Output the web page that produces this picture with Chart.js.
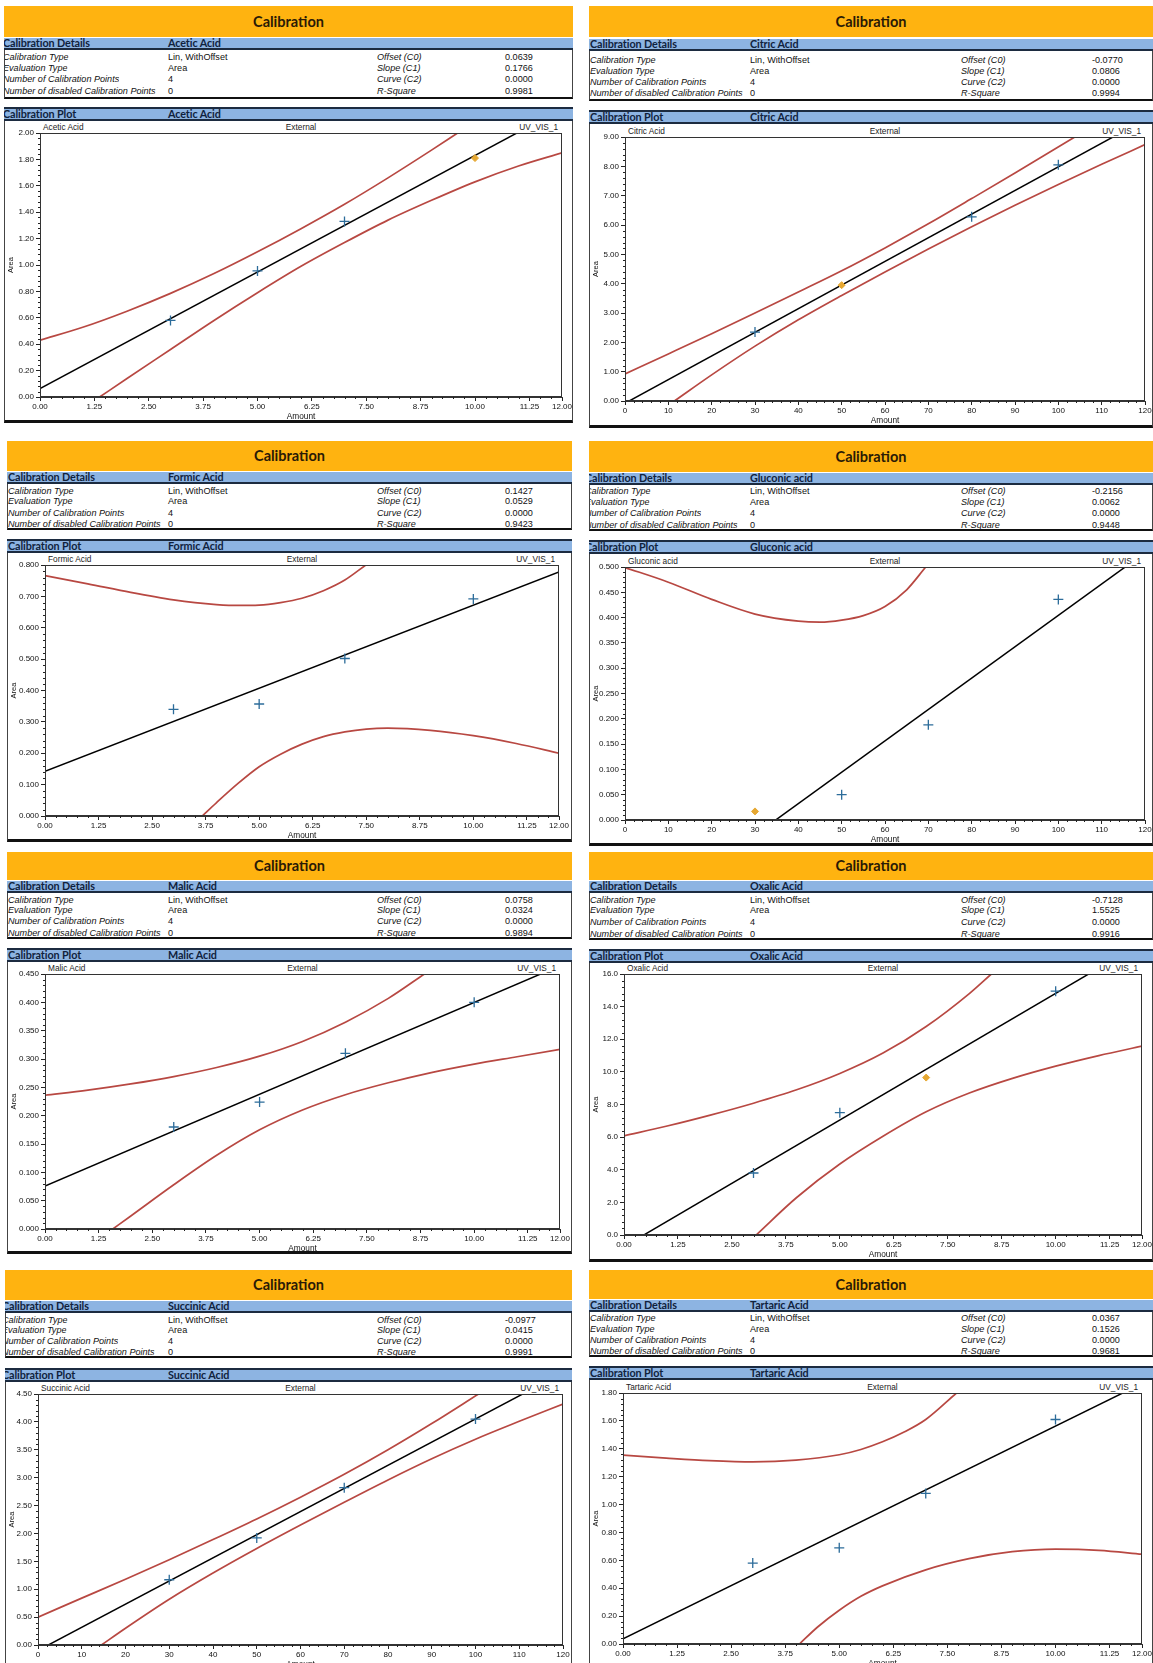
<!DOCTYPE html>
<html>
<head>
<meta charset="utf-8">
<script src="https://cdn.jsdelivr.net/npm/chart.js@4.4.1/dist/chart.umd.min.js"></script>
<style>
  html, body { margin: 0; padding: 0; background: #fff; }
  body { width: 1153px; height: 1663px; position: relative; overflow: hidden;
         font-family: "Liberation Sans", Arial, sans-serif; color: #111; }
  .box { position: absolute; box-sizing: border-box; overflow: hidden; }
  .orange { background: #FFB310; }
  .orange span { position: absolute; left: 0; right: 0; text-align: center;
                 font-family: Lato, "Open Sans", sans-serif; font-weight: 700; font-size: 14.5px; color: #2a1a06; }
  .bar { background: #8DB4E2; border-bottom: 2px solid #1c2b40; }
  .bar span, .pbar span { position: absolute; font-family: Lato, "Open Sans", sans-serif; font-weight: 700;
               font-size: 10.8px; color: #10223d; letter-spacing: -0.1px; white-space: nowrap; }
  .pbar { background: #8DB4E2; border-top: 2px solid #1c2b40; border-bottom: 2px solid #1c2b40; }
  .txt { position: absolute; white-space: nowrap; font-size: 9.1px; line-height: 10px; }
  .it { font-style: italic; }
  .sub { position: absolute; white-space: nowrap; font-size: 8.3px; line-height: 9px; color: #222; }
  canvas { position: absolute; }
</style>
</head>
<body>
<script>
// ---- calibration results ----
const acidNames = ['Acetic Acid', 'Citric Acid', 'Formic Acid', 'Gluconic acid',
                   'Malic Acid', 'Oxalic Acid', 'Succinic Acid', 'Tartaric Acid'];
const calibrationType = 'Lin, WithOffset';
const evaluationType = 'Area';
const calibrationPointCount = [4, 4, 4, 4, 4, 4, 4, 4];
const disabledPointCount = [0, 0, 0, 0, 0, 0, 0, 0];
const offsetC0 = [0.0639, -0.0770, 0.1427, -0.2156, 0.0758, -0.7128, -0.0977, 0.0367];
const slopeC1  = [0.1766, 0.0806, 0.0529, 0.0062, 0.0324, 1.5525, 0.0415, 0.1526];
const curveC2  = [0.0000, 0.0000, 0.0000, 0.0000, 0.0000, 0.0000, 0.0000, 0.0000];
const rSquare  = [0.9981, 0.9994, 0.9423, 0.9448, 0.9894, 0.9916, 0.9991, 0.9681];

// ---- standards (amount) ----
const amountLow    = [3, 5, 7, 10];
const amountHigh   = [30, 50, 70, 100];
const amountCitric = [30, 50, 80, 100];

// ---- measured areas ----
const areaAcetic   = [0.58, 0.955, 1.33, 1.81];
const areaCitric   = [2.35, 3.95, 6.28, 8.05];
const areaFormic   = [0.340, 0.357, 0.502, 0.692];
const areaGluconic = [0.017, 0.050, 0.188, 0.436];
const areaMalic    = [0.180, 0.224, 0.310, 0.400];
const areaOxalic   = [3.8, 7.5, 9.65, 14.95];
const areaSuccinic = [1.17, 1.92, 2.82, 4.05];
const areaTartaric = [0.58, 0.69, 1.08, 1.61];

// index of the standard shown with a diamond marker (-1: none)
const diamondPoint = [3, 1, -1, 0, -1, 2, -1, -1];

// ---- confidence limits [amount, area] ----
const aceticUpper = [[0,0.43],[1,0.53],[2,0.65],[3,0.785],[4,0.935],[5,1.10],[6,1.275],[7,1.46],[8,1.66],[9,1.87],[9.6,2.00]];
const aceticLower = [[1.37,0],[2,0.14],[3,0.36],[4,0.58],[5,0.79],[6,0.99],[7,1.17],[8,1.34],[9,1.49],[10,1.63],[11,1.75],[12,1.85]];
const citricUpper = [[0,0.92],[10,1.605],[20,2.295],[30,3.00],[40,3.715],[50,4.44],[60,5.22],[70,6.04],[80,6.90],[90,7.77],[103.8,9.0]];
const citricLower = [[11.4,0],[20,0.89],[30,1.87],[40,2.77],[50,3.60],[60,4.40],[70,5.18],[80,5.94],[90,6.67],[100,7.38],[110,8.07],[120,8.74]];
const formicUpper = [[0,0.766],[1,0.740],[2,0.713],[3,0.689],[3.5,0.680],[4,0.674],[4.5,0.671],[5,0.672],[5.5,0.680],[6,0.694],[6.5,0.718],[7,0.752],[7.49,0.80]];
const formicLower = [[3.67,0],[4,0.042],[4.5,0.103],[5,0.157],[5.5,0.197],[6,0.229],[6.5,0.253],[7,0.268],[7.5,0.277],[8,0.280],[9,0.273],[10,0.256],[11,0.231],[12,0.200]];
const gluconicUpper = [[0,0.499],[10,0.470],[20,0.436],[30,0.407],[40,0.393],[45,0.391],[50,0.395],[55,0.404],[60,0.422],[65,0.455],[69.4,0.500]];
const gluconicLower = [];
const malicUpper = [[0,0.236],[1,0.245],[2,0.256],[3,0.269],[4,0.285],[5,0.305],[6,0.331],[7,0.365],[8,0.407],[8.84,0.450]];
const malicLower = [[1.58,0],[2,0.023],[3,0.078],[4,0.130],[5,0.175],[6,0.210],[7,0.237],[8,0.258],[9,0.276],[10,0.291],[11,0.304],[12,0.317]];
const oxalicUpper = [[0,6.08],[1,6.68],[2,7.35],[3,8.08],[4,8.90],[5,9.90],[6,11.15],[7,12.78],[8,14.80],[8.51,16.0]];
const oxalicLower = [[3.06,0],[4,2.30],[5,4.35],[6,6.05],[7,7.55],[8,8.70],[9,9.60],[10,10.35],[11,11.0],[12,11.58]];
const succinicUpper = [[0,0.50],[10,0.84],[20,1.18],[30,1.53],[40,1.89],[50,2.26],[60,2.65],[70,3.06],[80,3.50],[90,3.97],[100.7,4.50]];
const succinicLower = [[14.5,0],[20,0.30],[30,0.82],[40,1.29],[50,1.73],[60,2.15],[70,2.56],[80,2.96],[90,3.34],[100,3.69],[110,4.01],[120,4.32]];
const tartaricUpper = [[0,1.354],[1,1.333],[2,1.315],[3,1.306],[4,1.318],[5,1.357],[5.5,1.395],[6,1.45],[6.5,1.52],[7,1.61],[7.71,1.80]];
const tartaricLower = [[4.08,0],[4.5,0.122],[5,0.242],[5.5,0.342],[6,0.417],[7,0.532],[8,0.612],[9,0.662],[10,0.680],[11,0.672],[12,0.644]];

// ---- axis ticks ----
const amountTicksFine   = [0, 1.25, 2.5, 3.75, 5, 6.25, 7.5, 8.75, 10, 11.25, 12];
const amountTicksCoarse = [0, 10, 20, 30, 40, 50, 60, 70, 80, 90, 100, 110, 120];
const aceticTicks   = [0, 0.2, 0.4, 0.6, 0.8, 1.0, 1.2, 1.4, 1.6, 1.8, 2.0];
const citricTicks   = [0, 1, 2, 3, 4, 5, 6, 7, 8, 9];
const formicTicks   = [0, 0.1, 0.2, 0.3, 0.4, 0.5, 0.6, 0.7, 0.8];
const gluconicTicks = [0, 0.05, 0.1, 0.15, 0.2, 0.25, 0.3, 0.35, 0.4, 0.45, 0.5];
const malicTicks    = [0, 0.05, 0.1, 0.15, 0.2, 0.25, 0.3, 0.35, 0.4, 0.45];
const oxalicTicks   = [0, 2, 4, 6, 8, 10, 12, 14, 16];
const succinicTicks = [0, 0.5, 1.0, 1.5, 2.0, 2.5, 3.0, 3.5, 4.0, 4.5];
const tartaricTicks = [0, 0.2, 0.4, 0.6, 0.8, 1.0, 1.2, 1.4, 1.6, 1.8];

const plots = [
  { amounts: amountLow,    areas: areaAcetic,   upper: aceticUpper,   lower: aceticLower,   xTicks: amountTicksFine,   xDec: 2, yTicks: aceticTicks,   yDec: 2 },
  { amounts: amountCitric, areas: areaCitric,   upper: citricUpper,   lower: citricLower,   xTicks: amountTicksCoarse, xDec: 0, yTicks: citricTicks,   yDec: 2 },
  { amounts: amountLow,    areas: areaFormic,   upper: formicUpper,   lower: formicLower,   xTicks: amountTicksFine,   xDec: 2, yTicks: formicTicks,   yDec: 3 },
  { amounts: amountHigh,   areas: areaGluconic, upper: gluconicUpper, lower: gluconicLower, xTicks: amountTicksCoarse, xDec: 0, yTicks: gluconicTicks, yDec: 3 },
  { amounts: amountLow,    areas: areaMalic,    upper: malicUpper,    lower: malicLower,    xTicks: amountTicksFine,   xDec: 2, yTicks: malicTicks,    yDec: 3 },
  { amounts: amountLow,    areas: areaOxalic,   upper: oxalicUpper,   lower: oxalicLower,   xTicks: amountTicksFine,   xDec: 2, yTicks: oxalicTicks,   yDec: 1 },
  { amounts: amountHigh,   areas: areaSuccinic, upper: succinicUpper, lower: succinicLower, xTicks: amountTicksCoarse, xDec: 0, yTicks: succinicTicks, yDec: 2 },
  { amounts: amountLow,    areas: areaTartaric, upper: tartaricUpper, lower: tartaricLower, xTicks: amountTicksFine,   xDec: 2, yTicks: tartaricTicks, yDec: 2 }
];

// ---- page geometry of each report block ----
const blocks = [
  {left:4,   right:573,  oT:6,    oB:37,   bT:38,   bB:50,   rows:[57,68,79,91],         tL:97,   pT:107,  pB:121,  fT:133,  fB:397,  fL:40,  fR:562,  bot:423,  indent:-2},
  {left:589, right:1153, oT:6,    oB:37,   bT:39,   bB:51,   rows:[60,71,82,93],         tL:99,   pT:110,  pB:124,  fT:137,  fB:401,  fL:625, fR:1145, bot:428,  indent:0},
  {left:7,   right:572,  oT:441,  oB:471,  bT:472,  bB:484,  rows:[491,501,513,524],     tL:528,  pT:539,  pB:553,  fT:565,  fB:816,  fL:45,  fR:559,  bot:842,  indent:0},
  {left:589, right:1153, oT:441,  oB:472,  bT:473,  bB:485,  rows:[491,502,513,525],     tL:529,  pT:540,  pB:554,  fT:567,  fB:820,  fL:625, fR:1145, bot:846,  indent:-5},
  {left:7,   right:572,  oT:852,  oB:880,  bT:881,  bB:893,  rows:[900,910,921,933],     tL:937,  pT:948,  pB:962,  fT:974,  fB:1229, fL:45,  fR:560,  bot:1254, indent:0},
  {left:589, right:1153, oT:852,  oB:880,  bT:881,  bB:893,  rows:[900,910,922,934],     tL:938,  pT:949,  pB:963,  fT:974,  fB:1235, fL:624, fR:1142, bot:1262, indent:0},
  {left:5,   right:572,  oT:1270, oB:1300, bT:1301, bB:1313, rows:[1320,1330,1341,1352], tL:1356, pT:1368, pB:1382, fT:1394, fB:1645, fL:38,  fR:563,  bot:1690, indent:-4},
  {left:589, right:1153, oT:1270, oB:1299, bT:1300, bB:1312, rows:[1318,1329,1340,1351], tL:1355, pT:1366, pB:1380, fT:1393, fB:1644, fL:623, fR:1142, bot:1690, indent:0}
];

function el(cls, css, text) {
  const d = document.createElement('div');
  d.className = cls;
  Object.assign(d.style, css);
  if (text !== undefined) d.textContent = text;
  document.body.appendChild(d);
  return d;
}
function span(parent, text, css) {
  const s = document.createElement('span');
  s.textContent = text;
  Object.assign(s.style, css);
  parent.appendChild(s);
  return s;
}

// frame around the plot area plus small intermediate ticks on both axes
const frameAndMinorTicks = {
  id: 'frameAndMinorTicks',
  afterDraw(chart) {
    const { ctx, chartArea: a, scales } = chart;
    ctx.save();
    ctx.strokeStyle = '#333';
    ctx.lineWidth = 1;
    ctx.strokeRect(Math.round(a.left) + 0.5, Math.round(a.top) + 0.5,
                   Math.round(a.right - a.left) - 1, Math.round(a.bottom - a.top) - 1);
    ctx.strokeStyle = '#222';
    for (const id of ['x', 'y']) {
      const s = scales[id];
      const t = s.ticks.map(k => k.value);
      for (let i = 0; i < t.length - 1; i++) {
        const step = t[i + 1] - t[i];
        const n = Math.round(step / (t[1] - t[0]) * 5);
        for (let j = 1; j < n; j++) {
          const v = t[i] + step * j / n;
          const p = Math.round(s.getPixelForValue(v)) + 0.5;
          ctx.beginPath();
          if (id === 'x') { ctx.moveTo(p, a.bottom); ctx.lineTo(p, a.bottom + 2); }
          else { ctx.moveTo(a.left - 2, p); ctx.lineTo(a.left, p); }
          ctx.stroke();
        }
      }
    }
    ctx.restore();
  }
};

Chart.defaults.font.family = '"Liberation Sans", Arial, sans-serif';
Chart.defaults.font.size = 8;
Chart.defaults.color = '#111';

blocks.forEach((b, i) => {
  const w = b.right - b.left;
  const name = acidNames[i];

  // title band
  const o = el('box orange', { left: b.left + 'px', top: b.oT + 'px', width: w + 'px', height: (b.oB - b.oT) + 'px' });
  span(o, 'Calibration', { top: ((b.oB - b.oT) / 2 - 9) + 'px', lineHeight: '18px' });

  // details header
  const bar = el('box bar', { left: b.left + 'px', top: b.bT + 'px', width: w + 'px', height: (b.bB - b.bT) + 'px' });
  const barLine = (b.bB - b.bT - 2) + 'px';
  const colName = b.left < 580 ? 168 : 750;
  const colLabel = b.left < 580 ? 377 : 961;
  const colValue = b.left < 580 ? 505 : 1092;
  span(bar, 'Calibration Details', { left: (b.indent + 1) + 'px', top: '0px', lineHeight: barLine });
  span(bar, name, { left: (colName - b.left) + 'px', top: '0px', lineHeight: barLine });

  // details table
  el('box', { left: b.left + 'px', top: b.bB + 'px', width: w + 'px', height: (b.tL - b.bB + 2) + 'px',
              borderLeft: '1px solid #444', borderRight: '1px solid #444', borderBottom: '2px solid #111' });
  const rowData = [
    ['Calibration Type', calibrationType, 'Offset (C0)', offsetC0[i].toFixed(4)],
    ['Evaluation Type', evaluationType, 'Slope (C1)', slopeC1[i].toFixed(4)],
    ['Number of Calibration Points', String(calibrationPointCount[i]), 'Curve (C2)', curveC2[i].toFixed(4)],
    ['Number of disabled Calibration Points', String(disabledPointCount[i]), 'R-Square', rSquare[i].toFixed(4)]
  ];
  rowData.forEach((r, k) => {
    const top = (b.rows[k] - 5) + 'px';
    const first = el('txt it', { left: (b.left + 1 + b.indent) + 'px', top }, r[0]);
    if (b.indent < 0) { first.style.clipPath = `inset(0 0 0 ${-b.indent}px)`; }
    el('txt', { left: colName + 'px', top }, r[1]);
    el('txt it', { left: colLabel + 'px', top }, r[2]);
    el('txt', { left: colValue + 'px', top }, r[3]);
  });

  // plot header
  const pbar = el('box pbar', { left: b.left + 'px', top: b.pT + 'px', width: w + 'px', height: (b.pB - b.pT) + 'px' });
  const pLine = (b.pB - b.pT - 4) + 'px';
  span(pbar, 'Calibration Plot', { left: (b.indent + 1) + 'px', top: '0px', lineHeight: pLine });
  span(pbar, name, { left: (colName - b.left) + 'px', top: '0px', lineHeight: pLine });

  // plot section outline
  el('box', { left: b.left + 'px', top: b.pB + 'px', width: w + 'px', height: (b.bot - b.pB) + 'px',
              borderLeft: '1px solid #444', borderRight: '1px solid #444', borderBottom: '3px solid #111' });

  // sub captions above the frame
  el('sub', { left: (b.fL + 3) + 'px', top: (b.fT - 10) + 'px' }, name);
  el('sub', { left: ((b.fL + b.fR) / 2 - 40) + 'px', width: '80px', textAlign: 'center', top: (b.fT - 10) + 'px' }, 'External');
  el('sub', { left: (b.fR - 84) + 'px', width: '80px', textAlign: 'right', top: (b.fT - 10) + 'px' }, 'UV_VIS_1');

  // chart canvas: y-axis band on the left, x-axis band below
  const p = plots[i];
  const cLeft = b.left + 2;
  const yAxisW = b.fL - cLeft;
  const xAxisH = 25;
  const padTop = 7, padRight = 14;
  const cw = b.fR + padRight - cLeft;
  const ch = b.fB + xAxisH - (b.fT - padTop);
  const cv = document.createElement('canvas');
  cv.width = cw; cv.height = ch;
  Object.assign(cv.style, { left: cLeft + 'px', top: (b.fT - padTop) + 'px', width: cw + 'px', height: ch + 'px' });
  document.body.appendChild(cv);

  const xMin = p.xTicks[0], xMax = p.xTicks[p.xTicks.length - 1];
  const yMin = p.yTicks[0], yMax = p.yTicks[p.yTicks.length - 1];
  const pts = p.amounts.map((a, k) => ({ x: a, y: p.areas[k] }));
  const crosses = pts.filter((_, k) => k !== diamondPoint[i]);
  const diamonds = pts.filter((_, k) => k === diamondPoint[i]);
  const fit = [xMin, xMax].map(x => ({ x, y: offsetC0[i] + slopeC1[i] * x }));
  const curve = c => c.map(([x, y]) => ({ x, y }));
  const red = '#B84842';

  new Chart(cv, {
    type: 'scatter',
    data: {
      datasets: [
        { data: crosses, pointStyle: 'cross', pointRadius: 5, borderColor: '#2C6C9A', pointBorderWidth: 1.3, showLine: false, order: 0 },
        { data: diamonds, pointStyle: 'rectRot', pointRadius: 3.5, backgroundColor: '#E6A832', borderColor: '#E6A832', showLine: false, order: 0 },
        { data: fit, showLine: true, borderColor: '#000', borderWidth: 1.5, pointRadius: 0, order: 1 },
        { data: curve(p.upper), showLine: true, borderColor: red, borderWidth: 1.7, pointRadius: 0, cubicInterpolationMode: 'monotone', order: 2 },
        { data: curve(p.lower), showLine: true, borderColor: red, borderWidth: 1.7, pointRadius: 0, cubicInterpolationMode: 'monotone', order: 2 }
      ]
    },
    options: {
      responsive: false, animation: false, events: [],
      layout: { padding: { top: padTop, right: padRight, left: 0, bottom: 0 } },
      plugins: { legend: { display: false }, tooltip: { enabled: false } },
      scales: {
        x: {
          type: 'linear', min: xMin, max: xMax,
          afterBuildTicks: s => { s.ticks = p.xTicks.map(v => ({ value: v })); },
          afterFit: s => { s.height = xAxisH; },
          ticks: { autoSkip: false, maxRotation: 0, padding: 1, callback: v => Number(v).toFixed(p.xDec) },
          grid: { drawOnChartArea: false, drawTicks: true, tickLength: 4, color: '#222' },
          border: { display: true, color: '#333' },
          title: { display: true, text: 'Amount', padding: { top: 0, bottom: 0 }, font: { size: 8.3 } }
        },
        y: {
          type: 'linear', min: yMin, max: yMax,
          afterBuildTicks: s => { s.ticks = p.yTicks.map(v => ({ value: v })); },
          afterFit: s => { s.width = yAxisW; },
          ticks: { autoSkip: false, padding: 2, callback: v => Number(v).toFixed(p.yDec) },
          grid: { drawOnChartArea: false, drawTicks: true, tickLength: 4, color: '#222' },
          border: { display: true, color: '#333' },
          title: { display: true, text: 'Area', padding: { top: 0, bottom: 0 }, font: { size: 7.5 } }
        }
      }
    },
    plugins: [frameAndMinorTicks]
  });
});
</script>
</body>
</html>
